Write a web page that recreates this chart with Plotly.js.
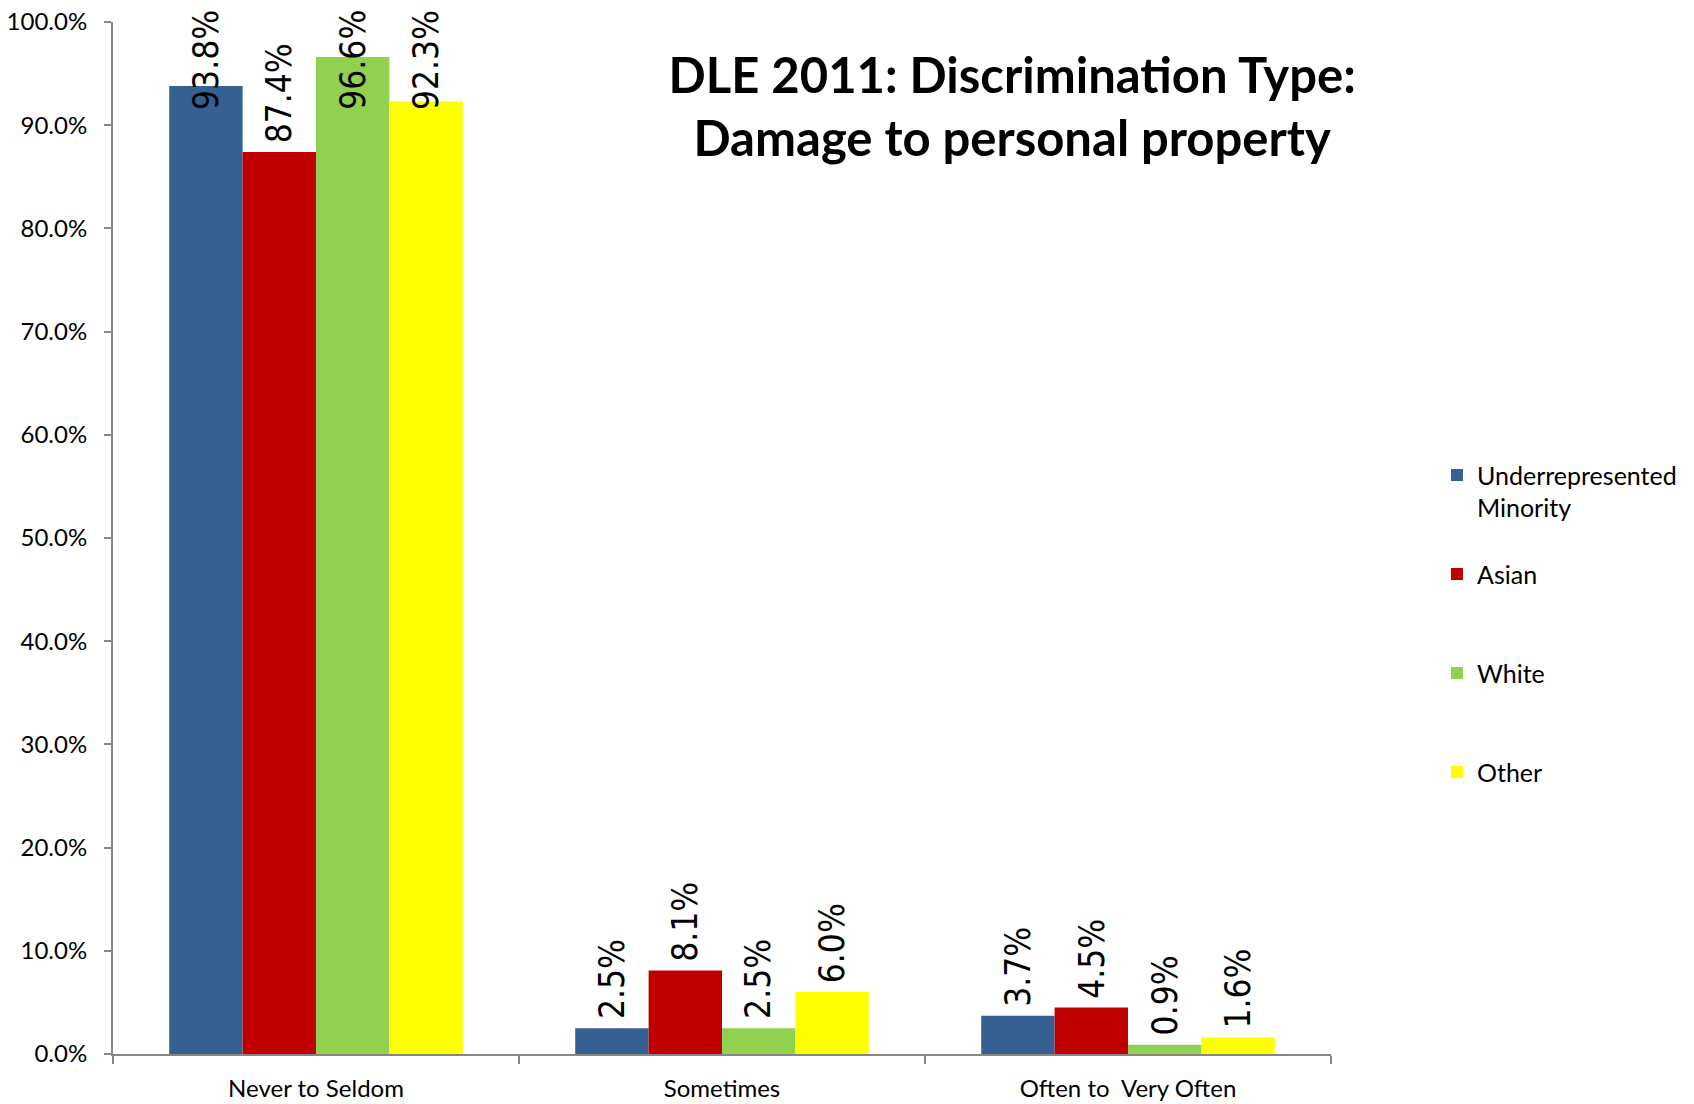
<!DOCTYPE html>
<html>
<head>
<meta charset="utf-8">
<script src="https://cdn.plot.ly/plotly-3.0.1.min.js"></script>
<style>
  html, body { margin: 0; padding: 0; background: #ffffff; }
  #chart { width: 1694px; height: 1104px; }
</style>
</head>
<body>
<div id="chart"></div>
<script>
// ---- data ----
var categories = ['Never to Seldom', 'Sometimes', 'Often to  Very Often'];
var seriesNames = ['Underrepresented<br>Minority', 'Asian<br> ', 'White<br> ', 'Other<br> '];
var urmValues = [0.938, 0.025, 0.037];
var asianValues = [0.874, 0.081, 0.045];
var whiteValues = [0.966, 0.025, 0.009];
var otherValues = [0.923, 0.060, 0.016];
var seriesColors = ['#366092', '#C00000', '#92D050', '#FFFF00'];
var yTickVals = [0, 0.1, 0.2, 0.3, 0.4, 0.5, 0.6, 0.7, 0.8, 0.9, 1.0];

var allValues = [urmValues, asianValues, whiteValues, otherValues];
var BARGAP = 0.277;
var LABEL_CAP = 0.906;

var traces = allValues.map(function (vals, i) {
  return {
    type: 'bar',
    name: seriesNames[i],
    legendgroup: 'g' + i,
    x: categories,
    y: vals,
    marker: { color: seriesColors[i], line: { width: 0 } },
    hoverinfo: 'skip'
  };
});

var annotations = [];
allValues.forEach(function (vals, i) {
  vals.forEach(function (v, j) {
    annotations.push({
      xref: 'x', yref: 'y',
      x: j + (i - 1.5) * (1 - BARGAP) / 4,
      y: Math.min(v, LABEL_CAP),
      text: (v * 100).toFixed(1) + '%',
      textangle: -90,
      showarrow: false,
      xanchor: 'center',
      yanchor: 'bottom',
      yshift: 7,
      font: { family: 'DejaVu Sans Condensed, DejaVu Sans, sans-serif', size: 35, color: '#000000' }
    });
  });
});

var layout = {
  width: 1694,
  height: 1104,
  paper_bgcolor: '#ffffff',
  plot_bgcolor: '#ffffff',
  margin: { l: 113, r: 360, t: 22, b: 50 },
  barmode: 'group',
  bargap: BARGAP,
  bargroupgap: 0,
  font: { family: 'Lato, sans-serif', size: 24, color: '#000000' },
  title: {
    text: 'DLE 2011: Discrimination Type:<br>Damage to personal property',
    font: { family: 'Lato, sans-serif', size: 49, weight: 700, color: '#000000' },
    xref: 'container', yref: 'container',
    x: 0.5975, xanchor: 'center',
    y: 0.916, yanchor: 'middle'
  },
  xaxis: {
    type: 'category',
    showgrid: false,
    showline: true,
    linecolor: '#868686',
    linewidth: 2,
    ticks: 'outside',
    tickson: 'boundaries',
    ticklen: 8,
    tickcolor: '#868686',
    tickwidth: 2,
    ticklabelstandoff: 12,
    tickfont: { family: 'Lato, sans-serif', size: 24, color: '#000000' },
    zeroline: false,
    fixedrange: true
  },
  yaxis: {
    range: [0, 1],
    tickvals: yTickVals,
    tickformat: '.1%',
    showgrid: false,
    showline: true,
    linecolor: '#868686',
    linewidth: 2,
    ticks: 'outside',
    ticklen: 7,
    tickcolor: '#868686',
    tickwidth: 2,
    ticklabelstandoff: 12,
    tickfont: { family: 'Lato, sans-serif', size: 24, color: '#000000' },
    zeroline: false,
    fixedrange: true
  },
  showlegend: true,
  legend: {
    x: 1.087, xanchor: 'left',
    y: 0.583, yanchor: 'top',
    traceorder: 'grouped',
    tracegroupgap: 31,
    valign: 'top',
    font: { family: 'Lato, sans-serif', size: 25, color: '#000000' },
    bgcolor: 'rgba(0,0,0,0)'
  },
  annotations: annotations
};

Plotly.newPlot('chart', traces, layout, { displayModeBar: false, staticPlot: true });
</script>
</body>
</html>
